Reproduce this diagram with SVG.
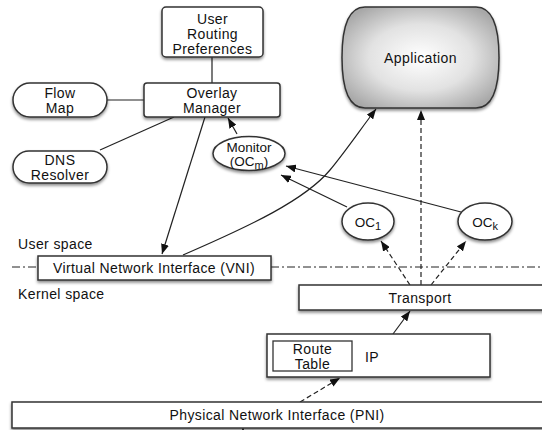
<svg xmlns="http://www.w3.org/2000/svg" width="542" height="430" viewBox="0 0 542 430">
<defs>
<style>
.box{fill:#fff;stroke:#333;stroke-width:1.5;filter:url(#sh)}
.t{font-family:"Liberation Sans",Arial,sans-serif;font-size:14px;letter-spacing:0.4px;fill:#111;text-anchor:middle}
.ts{font-family:"Liberation Sans",Arial,sans-serif;font-size:13.5px;fill:#111;text-anchor:middle}
.tl{font-family:"Liberation Sans",Arial,sans-serif;font-size:14px;letter-spacing:0.4px;fill:#111}
.c{fill:none;stroke:#222;stroke-width:1.2}
.a{fill:none;stroke:#222;stroke-width:1.2;marker-end:url(#ah)}
.d{fill:none;stroke:#222;stroke-width:1.2;stroke-dasharray:5 3;marker-end:url(#ah)}
.dd{fill:none;stroke:#222;stroke-width:1;stroke-dasharray:8 3 2 3}
</style>
<marker id="ah" markerUnits="userSpaceOnUse" markerWidth="10" markerHeight="8" refX="10" refY="4" orient="auto">
<path d="M0,0 L10,4 L0,8 z" fill="#111"/>
</marker>
<filter id="sh" x="-10%" y="-20%" width="130%" height="160%">
<feDropShadow dx="0" dy="2" stdDeviation="1.6" flood-color="#000" flood-opacity="0.45"/>
</filter>
<radialGradient id="ag" cx="50%" cy="50%" r="60%">
<stop offset="0" stop-color="#ffffff"/>
<stop offset="0.55" stop-color="#e2e2e2"/>
<stop offset="1" stop-color="#a8a8a8"/>
</radialGradient>
</defs>

<line class="dd" x1="12" y1="267" x2="38" y2="267"/>
<line class="dd" x1="271" y1="267" x2="542" y2="267"/>
<text class="tl" x="18" y="249">User space</text>
<text class="tl" x="18" y="299">Kernel space</text>

<g id="connectors">
<line class="c" x1="212" y1="57" x2="212" y2="83"/>
<line class="c" x1="107" y1="100" x2="144" y2="100"/>
<line class="c" x1="100" y1="150" x2="174" y2="117"/>
<line class="a" x1="205" y1="117" x2="162" y2="254"/>
<line class="a" x1="237" y1="134" x2="228" y2="118"/>
<path class="a" d="M183,255 C250,226 305,200 330,170 C345,152 360,130 376,109"/>
<line class="a" x1="347" y1="207" x2="281" y2="175"/>
<line class="a" x1="461" y1="212" x2="286" y2="166"/>
<line class="d" x1="421" y1="285" x2="421" y2="110"/>
<line class="d" x1="410" y1="285" x2="381" y2="241"/>
<line class="d" x1="431" y1="285" x2="466" y2="241"/>
<line class="a" x1="393" y1="334" x2="410" y2="311"/>
<line class="d" x1="300" y1="402" x2="340" y2="378"/>
<line class="a" x1="243" y1="445" x2="243" y2="428"/>
</g>

<g id="urp">
<rect class="box" x="162" y="7" width="101" height="50" rx="4"/>
<text class="t" x="212.5" y="24">User</text>
<text class="t" x="212.5" y="39">Routing</text>
<text class="t" x="212.5" y="54">Preferences</text>
</g>

<g id="overlay">
<rect class="box" x="144" y="83" width="136" height="34" rx="3"/>
<text class="t" x="212" y="98">Overlay</text>
<text class="t" x="212" y="113">Manager</text>
</g>

<g id="flowmap">
<rect class="box" x="13" y="83" width="94" height="34" rx="17"/>
<text class="t" x="60" y="98">Flow</text>
<text class="t" x="60" y="113">Map</text>
</g>

<g id="dns">
<rect class="box" x="13" y="151" width="94" height="32" rx="16"/>
<text class="t" x="60" y="165">DNS</text>
<text class="t" x="60" y="180">Resolver</text>
</g>

<g id="application">
<path d="M365,7 H476 C492,7 499,25 499,57.5 C499,90 492,108 476,108 H365 C349,108 342,90 342,57.5 C342,25 349,7 365,7 Z" fill="url(#ag)" stroke="#333" stroke-width="1.5" filter="url(#sh)"/>
<text class="t" x="420.5" y="63">Application</text>
</g>

<g id="monitor">
<ellipse class="box" cx="249" cy="153.5" rx="36" ry="17"/>
<text class="ts" x="249" y="152">Monitor</text>
<text class="ts" x="249" y="166">(OC<tspan font-size="11" dy="3">m</tspan><tspan dy="-3">)</tspan></text>
</g>

<g id="oc1">
<ellipse class="box" cx="368" cy="221.5" rx="26" ry="18.5"/>
<text class="ts" x="368" y="227">OC<tspan font-size="11" dy="3">1</tspan></text>
</g>

<g id="ock">
<ellipse class="box" cx="485" cy="221.5" rx="27" ry="18.5"/>
<text class="ts" x="485" y="227">OC<tspan font-size="11" dy="3">k</tspan></text>
</g>

<g id="vni">
<rect class="box" x="38" y="256" width="233" height="24"/>
<text class="t" x="154" y="273">Virtual Network Interface (VNI)</text>
</g>

<g id="transport">
<rect class="box" x="299" y="285" width="250" height="25"/>
<text class="t" x="420" y="303">Transport</text>
</g>

<g id="ip">
<rect class="box" x="267" y="334" width="223" height="43"/>
<rect x="273" y="341" width="79" height="30" fill="#fff" stroke="#333" stroke-width="1.3"/>
<text class="t" x="312.5" y="354">Route</text>
<text class="t" x="312.5" y="369">Table</text>
<text class="tl" x="365" y="362">IP</text>
</g>

<g id="pni">
<rect class="box" x="12" y="402" width="540" height="26"/>
<text class="t" x="277" y="420">Physical Network Interface (PNI)</text>
</g>
</svg>
